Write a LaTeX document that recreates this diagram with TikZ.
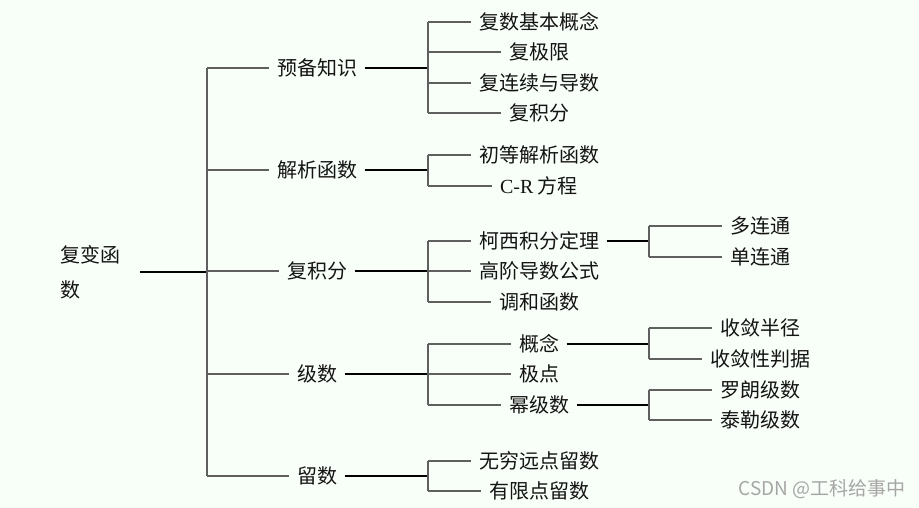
\documentclass[tikz,border=0pt]{standalone}
\usepackage{fontspec}
\setmainfont{Noto Sans CJK SC}
\newfontfamily\latinserif{Liberation Serif}
\usepackage{tikz}
\definecolor{bgmint}{RGB}{248,254,248}
\definecolor{linegray}{RGB}{95,95,95}

\begin{document}
\begin{tikzpicture}[x=1pt, y=-1pt,
    item/.style={inner xsep=7.5pt, inner ysep=2pt, text=black!92,
                 font=\fontsize{20}{24}\selectfont},
    trunk/.style={draw=black, line width=1.6pt},
    twig/.style={draw=linegray, line width=1.3pt}
  ]
  \fill[bgmint] (0,0) rectangle (919,508);
  \useasboundingbox (0,0) rectangle (919,508);

  % trunk positions
  \coordinate (t0) at (207,0);
  \coordinate (t1) at (428,0);
  \coordinate (t2) at (649,0);

  \node[item, text width=60pt, align=left, inner xsep=20pt,
        font=\fontsize{20}{35}\selectfont] (root) at (90,272) {复变函\\数};

  \node[item] (yb) at (317,68)  {预备知识};
  \node[item] (jx) at (317,170) {解析函数};
  \node[item] (fj) at (317,271) {复积分};
  \node[item] (js) at (317,374) {级数};
  \node[item] (ls) at (317,476) {留数};

  \node[item] (k1) at (539,22)  {复数基本概念};
  \node[item] (k2) at (539,52)  {复极限};
  \node[item] (k3) at (539,83)  {复连续与导数};
  \node[item] (k4) at (539,113) {复积分};

  \node[item] (a1) at (539,155) {初等解析函数};
  \node[item] (a2) at (539,186) {{\latinserif C-R} 方程};

  \node[item] (j1) at (539,241) {柯西积分定理};
  \node[item] (j2) at (539,271) {高阶导数公式};
  \node[item] (j3) at (539,302) {调和函数};

  \node[item] (s1) at (539,344) {概念};
  \node[item] (s2) at (539,374) {极点};
  \node[item] (s3) at (539,405) {幂级数};

  \node[item] (l1) at (539,461) {无穷远点留数};
  \node[item] (l2) at (539,491) {有限点留数};

  \node[item] (m1) at (760,226) {多连通};
  \node[item] (m2) at (760,257) {单连通};
  \node[item] (r1) at (760,328) {收敛半径};
  \node[item] (r2) at (760,359) {收敛性判据};
  \node[item] (r3) at (760,390) {罗朗级数};
  \node[item] (r4) at (760,420) {泰勒级数};

  \node[anchor=east, text=black!35, font=\fontsize{19}{22}\selectfont]
    (mark) at (909,489) {CSDN @工科给事中};

  % first level
  \draw[trunk] (root.east) -- (root.east -| t0);
  \draw[twig] (yb.west -| t0) -- (ls.west -| t0);
  \foreach \n in {yb,jx,fj,js,ls}
    \draw[twig] (\n.west -| t0) -- (\n.west);

  % second level
  \draw[trunk] (yb.east) -- (yb.east -| t1);
  \draw[twig] (k1.west -| t1) -- (k4.west -| t1);
  \foreach \n in {k1,k2,k3,k4}
    \draw[twig] (\n.west -| t1) -- (\n.west);

  \draw[trunk] (jx.east) -- (jx.east -| t1);
  \draw[twig] (a1.west -| t1) -- (a2.west -| t1);
  \foreach \n in {a1,a2}
    \draw[twig] (\n.west -| t1) -- (\n.west);

  \draw[trunk] (fj.east) -- (fj.east -| t1);
  \draw[twig] (j1.west -| t1) -- (j3.west -| t1);
  \foreach \n in {j1,j2,j3}
    \draw[twig] (\n.west -| t1) -- (\n.west);

  \draw[trunk] (js.east) -- (js.east -| t1);
  \draw[twig] (s1.west -| t1) -- (s3.west -| t1);
  \foreach \n in {s1,s2,s3}
    \draw[twig] (\n.west -| t1) -- (\n.west);

  \draw[trunk] (ls.east) -- (ls.east -| t1);
  \draw[twig] (l1.west -| t1) -- (l2.west -| t1);
  \foreach \n in {l1,l2}
    \draw[twig] (\n.west -| t1) -- (\n.west);

  % third level
  \draw[trunk] (j1.east) -- (j1.east -| t2);
  \draw[twig] (m1.west -| t2) -- (m2.west -| t2);
  \foreach \n in {m1,m2}
    \draw[twig] (\n.west -| t2) -- (\n.west);

  \draw[trunk] (s1.east) -- (s1.east -| t2);
  \draw[twig] (r1.west -| t2) -- (r2.west -| t2);
  \foreach \n in {r1,r2}
    \draw[twig] (\n.west -| t2) -- (\n.west);

  \draw[trunk] (s3.east) -- (s3.east -| t2);
  \draw[twig] (r3.west -| t2) -- (r4.west -| t2);
  \foreach \n in {r3,r4}
    \draw[twig] (\n.west -| t2) -- (\n.west);
\end{tikzpicture}
\end{document}
